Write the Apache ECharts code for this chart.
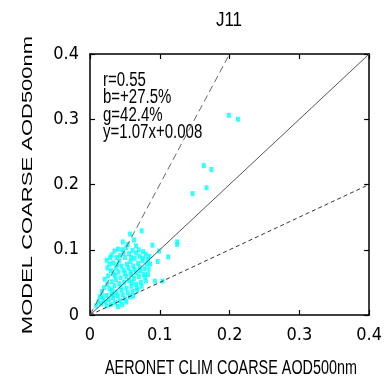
<!DOCTYPE html>
<html>
<head>
<meta charset="utf-8">
<script src="https://cdn.jsdelivr.net/npm/echarts@6/dist/echarts.min.js"></script>
<style>
  html, body { margin: 0; padding: 0; background: #fff; }
  #chart { width: 385px; height: 380px; }
</style>
</head>
<body>
<div id="chart"></div>
<script>
// 数据
var titleText = 'J11';
var xName = 'AERONET CLIM COARSE AOD500nm';
var yName = 'MODEL COARSE AOD500nm';
var statLines = ['r=0.55', 'b=+27.5%', 'g=42.4%', 'y=1.07x+0.008'];
var tickLabels = ['0', '0.1', '0.2', '0.3', '0.4'];
// 参考线 1:1, 2:1, 1:2
var lineOne = [[0, 0], [0.4, 0.4]];
var lineUp = [[0, 0], [0.2, 0.4]];
var lineDown = [[0, 0], [0.4, 0.2]];
// 散点 (x = AERONET, y = MODEL)
var points = [
  [0.199,0.306],[0.212,0.300],[0.163,0.229],[0.174,0.223],[0.147,0.186],[0.167,0.195],
  [0.125,0.112],[0.125,0.108],[0.112,0.089],[0.104,0.052],[0.093,0.052],[0.097,0.082],
  [0.099,0.098],[0.0895,0.107],[0.074,0.129],[0.0575,0.124],[0.063,0.115],[0.085,0.090],
  [0.083,0.062],[0.068,0.038],
  [0.024,0.084],[0.031,0.092],[0.035,0.098],[0.040,0.101],[0.046,0.100],[0.052,0.103],
  [0.048,0.095],[0.038,0.088],[0.028,0.078],[0.033,0.080],[0.042,0.083],[0.050,0.088],
  [0.056,0.094],[0.061,0.099],[0.066,0.106],[0.070,0.100],[0.076,0.097],[0.080,0.093],
  [0.071,0.090],[0.064,0.087],[0.058,0.082],[0.053,0.078],[0.045,0.075],[0.037,0.072],
  [0.030,0.068],[0.026,0.060],[0.034,0.063],[0.041,0.066],[0.048,0.069],[0.055,0.072],
  [0.062,0.075],[0.069,0.079],[0.075,0.083],[0.081,0.078],[0.078,0.071],[0.072,0.068],
  [0.066,0.065],[0.059,0.062],[0.052,0.059],[0.044,0.057],[0.037,0.054],[0.031,0.051],
  [0.025,0.047],[0.020,0.042],[0.028,0.040],[0.035,0.045],[0.042,0.048],[0.049,0.050],
  [0.056,0.053],[0.063,0.056],[0.070,0.059],[0.077,0.062],[0.084,0.070],[0.086,0.078],
  [0.080,0.052],[0.073,0.050],[0.066,0.047],[0.059,0.044],[0.052,0.041],[0.045,0.038],
  [0.038,0.035],[0.031,0.032],[0.024,0.030],[0.018,0.028],[0.014,0.028],[0.019,0.023],
  [0.012,0.020],[0.009,0.014],[0.016,0.017],[0.022,0.020],[0.027,0.024],[0.033,0.026],
  [0.040,0.029],[0.047,0.031],[0.054,0.034],[0.061,0.036],[0.057,0.028],[0.050,0.025],
  [0.043,0.022],[0.036,0.019],[0.030,0.016],[0.024,0.014],[0.046,0.016],[0.040,0.013],
  [0.052,0.020],[0.062,0.029],[0.067,0.041],[0.074,0.044],[0.079,0.058],[0.036,0.060],
  [0.043,0.091],[0.029,0.088],[0.054,0.108],[0.047,0.112],[0.059,0.088],[0.066,0.095],
  [0.039,0.077],[0.025,0.072],[0.021,0.055],[0.017,0.036],[0.032,0.038],[0.058,0.066],
  [0.064,0.070],[0.050,0.064],[0.044,0.043],[0.071,0.073],[0.076,0.087],[0.083,0.085],
  [0.060,0.050],[0.034,0.030]
];

var narrow = '"DejaVu Sans Condensed", sans-serif';
var sans = '"Liberation Sans", Arial, sans-serif';
var myChart = echarts.init(document.getElementById('chart'));

function axisBase(pos, showLabel) {
  return {
    type: 'value',
    position: pos,
    min: 0, max: 0.4, interval: 0.1,
    axisLine: { show: true, onZero: false, lineStyle: { color: '#000', width: 1.5 } },
    axisTick: { show: true, inside: true, length: 5, lineStyle: { color: '#000', width: 1.2 } },
    splitLine: { show: false },
    axisLabel: {
      show: showLabel, color: '#000', fontSize: 18, fontFamily: narrow, margin: 11,
      formatter: function (v) { return tickLabels[Math.round(v * 10)]; }
    }
  };
}

// 文字: 原图横向压缩, 用 scale 模拟
function txt(s, x, y, opts) {
  var o = { type: 'text', x: x, y: y,
    style: { text: s, fontSize: 20, fontFamily: sans, fill: '#000', align: 'center', verticalAlign: 'middle' } };
  for (var k in opts) {
    if (k === 'align' || k === 'fontSize') o.style[k] = opts[k]; else o[k] = opts[k];
  }
  return o;
}
var texts = [
  txt(titleText, 229, 20, { scaleX: 0.85 }),
  txt(xName, 231, 368, { scaleX: 0.72 }),
  txt(yName, 28, 185, { rotation: Math.PI / 2, scaleY: 0.7, fontSize: 22 })
];
statLines.forEach(function (s, i) {
  texts.push(txt(s, 103, 80 + i * 17.5, { scaleX: 0.75, align: 'left' }));
});

var option = {
  animation: false,
  grid: { left: 90, right: 12, top: 54, bottom: 65 },
  graphic: texts,
  xAxis: [axisBase('bottom', true), axisBase('top', false)],
  yAxis: [axisBase('left', true), axisBase('right', false)],
  series: [
    { type: 'line', data: lineOne, symbol: 'none', silent: true,
      lineStyle: { color: '#555', width: 1 } },
    { type: 'line', data: lineUp, symbol: 'none', silent: true,
      lineStyle: { color: '#666', width: 1, type: [7, 4] } },
    { type: 'line', data: lineDown, symbol: 'none', silent: true,
      lineStyle: { color: '#333', width: 1, type: [4, 3] } },
    { type: 'scatter', data: points, symbol: 'rect', symbolSize: [4, 5],
      itemStyle: { color: '#00ffff' } }
  ]
};
myChart.setOption(option);
</script>
</body>
</html>
